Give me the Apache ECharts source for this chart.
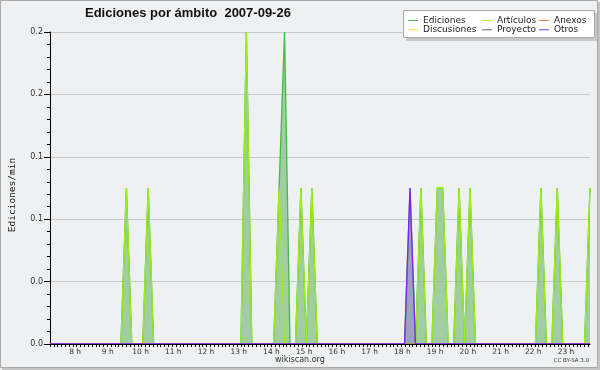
<!DOCTYPE html>
<html>
<head>
<meta charset="utf-8">
<script src="https://cdn.jsdelivr.net/npm/echarts@6/dist/echarts.min.js"></script>
<style>
html,body{margin:0;padding:0;background:#eff0f1;}
#chart{width:600px;height:370px;}
</style>
</head>
<body>
<div id="chart"></div>
<script>
// 10-minute bins, 07:14 .. 23:44
const times = [
 "07:14","07:24","07:34","07:44","07:54",
 "08:04","08:14","08:24","08:34","08:44","08:54",
 "09:04","09:14","09:24","09:34","09:44","09:54",
 "10:04","10:14","10:24","10:34","10:44","10:54",
 "11:04","11:14","11:24","11:34","11:44","11:54",
 "12:04","12:14","12:24","12:34","12:44","12:54",
 "13:04","13:14","13:24","13:34","13:44","13:54",
 "14:04","14:14","14:24","14:34","14:44","14:54",
 "15:04","15:14","15:24","15:34","15:44","15:54",
 "16:04","16:14","16:24","16:34","16:44","16:54",
 "17:04","17:14","17:24","17:34","17:44","17:54",
 "18:04","18:14","18:24","18:34","18:44","18:54",
 "19:04","19:14","19:24","19:34","19:44","19:54",
 "20:04","20:14","20:24","20:34","20:44","20:54",
 "21:04","21:14","21:24","21:34","21:44","21:54",
 "22:04","22:14","22:24","22:34","22:44","22:54",
 "23:04","23:14","23:24","23:34","23:44"
];
const ediciones = [
 0,0,0,0,0,
 0,0,0,0,0,0,
 0,0,0,0.1,0,0,
 0,0.1,0,0,0,0,
 0,0,0,0,0,0,
 0,0,0,0,0,0,
 0,0.2,0,0,0,0,
 0,0.1,0.2,0,0,0.1,
 0,0.1,0,0,0,0,
 0,0,0,0,0,0,
 0,0,0,0,0,0,
 0,0.1,0,0.1,0,0,
 0.1,0.1,0,0,0.1,0,
 0.1,0,0,0,0,0,
 0,0,0,0,0,0,
 0,0.1,0,0,0.1,0,
 0,0,0,0,0.1
];
const articulos = [
 0,0,0,0,0,
 0,0,0,0,0,0,
 0,0,0,0.1,0,0,
 0,0.1,0,0,0,0,
 0,0,0,0,0,0,
 0,0,0,0,0,0,
 0,0.2,0,0,0,0,
 0,0.1,0,0,0,0.1,
 0,0.1,0,0,0,0,
 0,0,0,0,0,0,
 0,0,0,0,0,0,
 0,0,0,0.1,0,0,
 0.1,0.1,0,0,0.1,0,
 0.1,0,0,0,0,0,
 0,0,0,0,0,0,
 0,0.1,0,0,0.1,0,
 0,0,0,0,0.1
];
const anexos = [
 0,0,0,0,0,
 0,0,0,0,0,0, 0,0,0,0,0,0, 0,0,0,0,0,0, 0,0,0,0,0,0,
 0,0,0,0,0,0, 0,0,0,0,0,0, 0,0,0,0,0,0, 0,0,0,0,0,0,
 0,0,0,0,0,0, 0,0,0,0,0,0, 0,0,0,0,0,0, 0,0,0,0,0,0,
 0,0,0,0,0,0, 0,0,0,0,0,0, 0,0,0,0,0,0,
 0,0,0,0,0
];
const discusiones = [
 0,0,0,0,0,
 0,0,0,0,0,0, 0,0,0,0,0,0, 0,0,0,0,0,0, 0,0,0,0,0,0,
 0,0,0,0,0,0, 0,0,0,0,0,0, 0,0,0,0,0,0, 0,0,0,0,0,0,
 0,0,0,0,0,0, 0,0,0,0,0,0, 0,0,0,0,0,0, 0,0,0,0,0,0,
 0,0,0,0,0,0, 0,0,0,0,0,0, 0,0,0,0,0,0,
 0,0,0,0,0
];
const proyecto = [
 0,0,0,0,0,
 0,0,0,0,0,0, 0,0,0,0,0,0, 0,0,0,0,0,0, 0,0,0,0,0,0,
 0,0,0,0,0,0, 0,0,0,0,0,0, 0,0,0,0,0,0, 0,0,0,0,0,0,
 0,0,0,0,0,0, 0,0,0,0,0,0, 0,0,0,0,0,0, 0,0,0,0,0,0,
 0,0,0,0,0,0, 0,0,0,0,0,0, 0,0,0,0,0,0,
 0,0,0,0,0
];
const otros = [
 0,0,0,0,0,
 0,0,0,0,0,0, 0,0,0,0,0,0, 0,0,0,0,0,0, 0,0,0,0,0,0,
 0,0,0,0,0,0, 0,0,0,0,0,0, 0,0,0,0,0,0, 0,0,0,0,0,0,
 0,0,0,0,0,0, 0,0,0,0,0,0, 0,0.1,0,0,0,0, 0,0,0,0,0,0,
 0,0,0,0,0,0, 0,0,0,0,0,0, 0,0,0,0,0,0,
 0,0,0,0,0
];
const hourLabels = [8,9,10,11,12,13,14,15,16,17,18,19,20,21,22,23];

const toMin = s => { const p = s.split(':'); return (+p[0]) * 60 + (+p[1]); };
const xs = times.map(toMin);
const pts = arr => xs.map((x, i) => [x, arr[i]]);
const xMin = xs[0], xMax = xs[xs.length - 1];
const minorX = [];
for (let v = xMin; v <= xMax; v += 7) minorX.push(v);

const chart = echarts.init(document.getElementById('chart'), null, {renderer: 'canvas'});
const legendBase = {
  orient: 'vertical', top: 16, itemWidth: 10, itemHeight: 1, itemGap: 0.3,
  icon: 'rect', selectedMode: false, padding: 0, z: 5,
  textStyle: {fontFamily: 'DejaVu Sans', fontSize: 9, lineHeight: 9, color: '#222'}
};
chart.setOption({
  animation: false,
  backgroundColor: '#eff0f1',
  title: {
    text: 'Ediciones por ámbito  2007-09-26', left: 85, top: 7, padding: 0,
    textStyle: {fontFamily: 'Liberation Sans', fontWeight: 'bold', fontSize: 13, color: '#111'}
  },
  legend: [
    Object.assign({}, legendBase, {left: 408, data: ['Ediciones', 'Discusiones']}),
    Object.assign({}, legendBase, {left: 482, data: ['Artículos', 'Proyecto']}),
    Object.assign({}, legendBase, {left: 539, data: ['Anexos', 'Otros']})
  ],
  grid: {left: 46, right: 10, top: 32, bottom: 26, containLabel: false},
  xAxis: {
    type: 'value', min: xMin, max: xMax, zlevel: 1, z: 10,
    axisLine: {lineStyle: {color: '#000', width: 1}},
    axisTick: {show: true, length: 3, lineStyle: {color: '#000'}, customValues: minorX},
    axisLabel: {
      customValues: hourLabels.map(h => h * 60),
      formatter: v => (v / 60) + ' h',
      fontFamily: 'DejaVu Sans', fontSize: 7.5, color: '#333', margin: 4
    },
    splitLine: {show: false}
  },
  yAxis: {
    type: 'value', min: 0, max: 0.2, interval: 0.04,
    name: 'Ediciones/min', nameLocation: 'middle', nameRotate: 90, nameGap: 32,
    nameTextStyle: {fontFamily: 'DejaVu Sans Mono', fontSize: 9.5, color: '#111', padding: [0, 14, 0, 0]},
    axisLine: {show: true, lineStyle: {color: '#000'}},
    axisTick: {show: true, length: 6, lineStyle: {color: '#000'}},
    minorTick: {show: true, splitNumber: 5, length: 3, lineStyle: {color: '#000'}},
    axisLabel: {
      formatter: v => v.toFixed(1),
      fontFamily: 'DejaVu Sans', fontSize: 8, color: '#333', margin: 7
    },
    splitLine: {lineStyle: {color: '#c8c8c8', width: 1}}
  },
  series: [
    {name: 'Ediciones', type: 'line', color: '#4cbf4c', symbol: 'none', data: pts(ediciones),
     lineStyle: {width: 1.3, color: '#44bb44'}, areaStyle: {color: '#8fc48f', opacity: 0.8}},
    {name: 'Artículos', type: 'line', color: '#b4f03c', symbol: 'none', data: pts(articulos),
     lineStyle: {width: 1.3, color: '#9cef10'}},
    {name: 'Anexos', type: 'line', color: '#ff7f3f', symbol: 'none', data: pts(anexos),
     lineStyle: {width: 1}},
    {name: 'Discusiones', type: 'line', color: '#ffd83a', symbol: 'none', data: pts(discusiones),
     lineStyle: {width: 1}},
    {name: 'Proyecto', type: 'line', color: '#666666', symbol: 'none', data: pts(proyecto),
     lineStyle: {width: 1}},
    {name: 'Otros', type: 'line', color: '#8a3dff', symbol: 'none', data: pts(otros),
     lineStyle: {width: 1.3, color: '#7f1fff'}, areaStyle: {color: '#8a3dff', opacity: 0.3}}
  ],
  graphic: [
    {type: 'rect', z: 1, shape: {x: 0.5, y: 0.5, width: 597, height: 367},
     style: {fill: null, stroke: '#a8a8a8', lineWidth: 1}},
    {type: 'rect', z: 1, shape: {x: 598, y: 2, width: 2, height: 368},
     style: {fill: '#c4c4c4'}},
    {type: 'rect', z: 1, shape: {x: 2, y: 368, width: 598, height: 2},
     style: {fill: '#c4c4c4'}},
    {type: 'rect', z: 1, shape: {x: 406, y: 13, width: 191, height: 28},
     style: {fill: '#c8c8c8'}},
    {type: 'rect', z: 2, shape: {x: 403.5, y: 10.5, width: 191, height: 27},
     style: {fill: '#ffffff', stroke: '#a8a8a8', lineWidth: 1}},
    {type: 'text', z: 2, left: 275, top: 356,
     style: {text: 'wikiscan.org', fontFamily: 'DejaVu Sans', fontSize: 8, fill: '#333'}},
    {type: 'text', z: 2, right: 11, top: 358,
     style: {text: 'CC BY-SA 3.0', fontFamily: 'DejaVu Sans', fontSize: 5.5, fill: '#333'}}
  ]
});
</script>
</body>
</html>
